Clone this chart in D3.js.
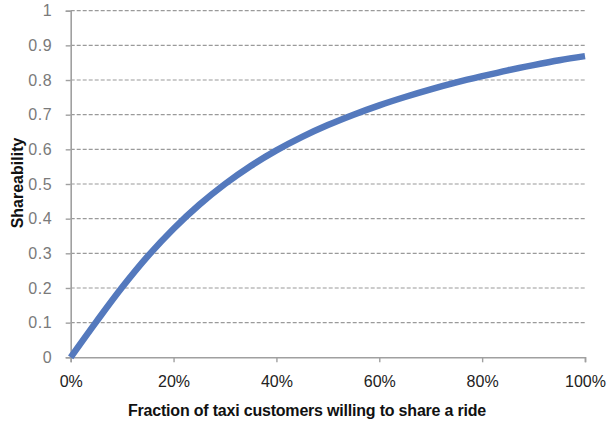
<!DOCTYPE html>
<html>
<head>
<meta charset="utf-8">
<script src="https://cdn.jsdelivr.net/npm/d3@7"></script>
<style>
  body { margin: 0; background: #fff; }
  svg { display: block; }
</style>
</head>
<body>
<svg width="608" height="422"></svg>
<script>
// fraction of customers willing to share (0..1) and shareability
var fractions = [0, 0.05, 0.10, 0.15, 0.20, 0.25, 0.30, 0.35, 0.40, 0.45, 0.50,
                 0.55, 0.60, 0.65, 0.70, 0.75, 0.80, 0.85, 0.90, 0.95, 1.00];
var shareability = [0, 0.103, 0.202, 0.292, 0.371, 0.440, 0.500, 0.552, 0.597, 0.636, 0.670,
                    0.700, 0.727, 0.751, 0.773, 0.793, 0.811, 0.828, 0.843, 0.857, 0.869];

var xTicks = [0, 0.2, 0.4, 0.6, 0.8, 1.0];
var yTicks = [0, 0.1, 0.2, 0.3, 0.4, 0.5, 0.6, 0.7, 0.8, 0.9, 1];

var xTitle = "Fraction of taxi customers willing to share a ride";
var yTitle = "Shareability";

var lineColor = "#5479bd";
var font = "'Liberation Sans', Arial, Helvetica, sans-serif";

var svg = d3.select("svg");
var margin = {top: 10.7, right: 23, bottom: 64.7, left: 70.7};
var width = 608 - margin.left - margin.right;
var height = 422 - margin.top - margin.bottom;

var g = svg.append("g")
    .attr("transform", "translate(" + margin.left + "," + margin.top + ")");

var x = d3.scaleLinear().domain([0, 1]).range([0, width]);
var y = d3.scaleLinear().domain([0, 1]).range([height, 0]);

// dashed grid lines
g.selectAll(".grid")
    .data(yTicks.filter(function(d) { return d > 0; }))
    .enter()
    .append("line")
    .attr("class", "grid")
    .attr("x1", 0)
    .attr("x2", width)
    .attr("y1", function(d) { return y(d); })
    .attr("y2", function(d) { return y(d); })
    .attr("stroke", "#9a9a9a")
    .attr("stroke-width", 1.2)
    .attr("stroke-dasharray", "4,2");

// y axis
var yAxis = g.append("g")
    .call(d3.axisLeft(y).tickValues(yTicks).tickSize(5).tickPadding(13.5)
        .tickFormat(function(d) { return d3.format("")(+d.toFixed(1)); }));
yAxis.select(".domain").attr("stroke", "#a0a0a0").attr("stroke-width", 1.6);
yAxis.selectAll(".tick line").attr("stroke", "#a0a0a0").attr("stroke-width", 1.4);
yAxis.selectAll(".tick text")
    .attr("fill", "#7a7a7a")
    .style("font-family", font)
    .style("font-size", "16px")
    .style("letter-spacing", "0.6px");

// x axis
var xAxis = g.append("g")
    .attr("transform", "translate(0," + height + ")")
    .call(d3.axisBottom(x).tickValues(xTicks).tickSize(5).tickPadding(13)
        .tickFormat(d3.format(".0%")));
xAxis.select(".domain").attr("stroke", "#a0a0a0").attr("stroke-width", 1.6);
xAxis.selectAll(".tick line").attr("stroke", "#a0a0a0").attr("stroke-width", 1.4);
xAxis.selectAll(".tick text")
    .attr("fill", "#222")
    .style("font-family", font)
    .style("font-size", "16px");

// curve
var line = d3.line()
    .x(function(d, i) { return x(fractions[i]); })
    .y(function(d) { return y(d); })
    .curve(d3.curveMonotoneX);

g.append("path")
    .datum(shareability)
    .attr("d", line)
    .attr("fill", "none")
    .attr("stroke", lineColor)
    .attr("stroke-width", 6.5)
    .attr("stroke-linecap", "butt");

// axis titles
svg.append("text")
    .attr("x", 307)
    .attr("y", 416)
    .attr("text-anchor", "middle")
    .style("font-family", font)
    .style("font-weight", "bold")
    .style("font-size", "16px")
    .style("letter-spacing", "-0.2px")
    .attr("fill", "#111")
    .text(xTitle);

svg.append("text")
    .attr("transform", "translate(23,183) rotate(-90)")
    .attr("text-anchor", "middle")
    .style("font-family", font)
    .style("font-weight", "bold")
    .style("font-size", "16px")
    .attr("fill", "#111")
    .text(yTitle);
</script>
</body>
</html>
